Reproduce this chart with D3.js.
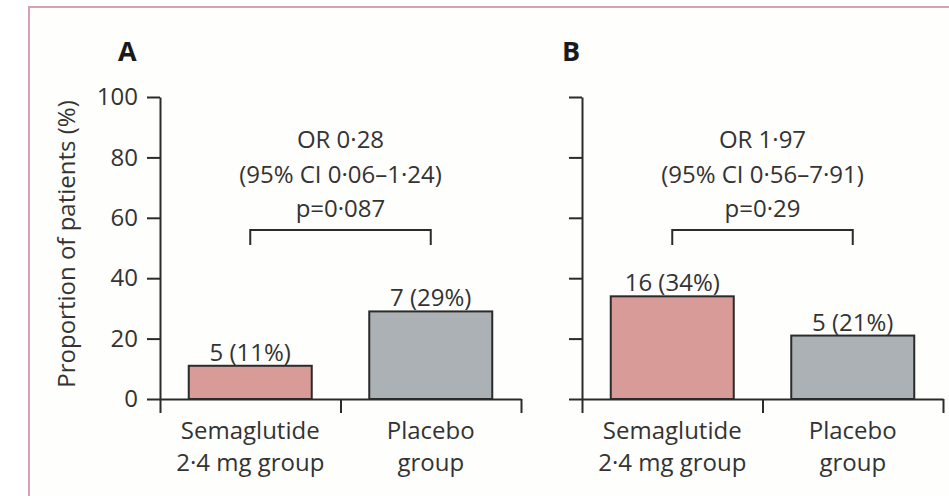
<!DOCTYPE html>
<meta charset="utf-8">
<style>
  body { margin: 0; background: #fff; }
  text { font-family: "Open Sans", sans-serif; fill: #333; }
</style>
<svg width="949" height="496"></svg>
<script src="https://d3js.org/d3.v7.min.js"></script>
<script>
// data
var groups = ["Semaglutide 2·4 mg group", "Placebo group"];
var groupLines = [["Semaglutide", "2·4 mg group"], ["Placebo", "group"]];
var panelA = [11, 29];
var panelALabels = ["5 (11%)", "7 (29%)"];
var panelB = [34, 21];
var panelBLabels = ["16 (34%)", "5 (21%)"];
var statsA = ["OR 0·28", "(95% CI 0·06–1·24)", "p=0·087"];
var statsB = ["OR 1·97", "(95% CI 0·56–7·91)", "p=0·29"];
var yTicks = [0, 20, 40, 60, 80, 100];

var svg = d3.select("svg");

// frame (bottom and right edges run off the picture)
svg.append("rect")
    .attr("x", 29).attr("y", 7)
    .attr("width", 940).attr("height", 500)
    .attr("fill", "#fefefd")
    .attr("stroke", "#d6a2b2")
    .attr("stroke-width", 2);

var y = d3.scaleLinear().domain([0, 100]).range([399, 97]);

function panel(left, letter, values, labels, stats, showLabels) {
    var g = svg.append("g").attr("transform", "translate(" + left + ",0)");
    var w = 361;

    var x = d3.scaleBand().domain(groups).range([0, w]).paddingInner(0).paddingOuter(0);
    var edges = d3.scaleLinear().domain([0, groups.length]).range([0, w]);
    var barW = 123;

    g.append("text")
        .attr("x", letter == "A" ? -42 : -20)
        .attr("y", 61)
        .attr("font-weight", "bold")
        .attr("font-size", 27)
        .style("fill", "#1a1a1a")
        .text(letter);

    // bars
    g.selectAll("rect.bar")
      .data(values)
      .enter().append("rect")
        .attr("class", "bar")
        .attr("x", function(d, i) { return x(groups[i]) + x.bandwidth() / 2 - barW / 2; })
        .attr("y", function(d) { return y(d); })
        .attr("width", barW)
        .attr("height", function(d) { return y(0) - y(d); })
        .attr("fill", function(d, i) { return i == 0 ? "#d89b97" : "#abb1b4"; })
        .attr("stroke", "#2b2b2b")
        .attr("stroke-width", 2);

    g.selectAll("text.val")
      .data(values)
      .enter().append("text")
        .attr("class", "val")
        .attr("x", function(d, i) { return x(groups[i]) + x.bandwidth() / 2; })
        .attr("y", function(d) { return y(d) - 5; })
        .attr("text-anchor", "middle")
        .attr("font-size", 24)
        .text(function(d, i) { return labels[i]; });

    // y axis
    var ya = g.append("g")
        .call(d3.axisLeft(y).tickValues(yTicks).tickSize(13).tickSizeOuter(0).tickPadding(9)
            .tickFormat(showLabels ? d3.format("d") : ""));
    // x axis
    var xa = g.append("g")
        .attr("transform", "translate(0," + y(0) + ")")
        .call(d3.axisBottom(edges).tickValues(d3.range(groups.length + 1)).tickSize(14).tickSizeOuter(0).tickFormat(""));

    [ya, xa].forEach(function(a) {
        a.selectAll("path, line").attr("stroke", "#2b2b2b").attr("stroke-width", 2);
        a.selectAll("text").attr("font-size", 24).attr("font-family", "Open Sans, sans-serif").attr("fill", "#333");
    });

    // category labels
    groupLines.forEach(function(lines, i) {
        var t = g.append("text")
            .attr("text-anchor", "middle")
            .attr("font-size", 24);
        lines.forEach(function(s, j) {
            t.append("tspan")
                .attr("x", x(groups[i]) + x.bandwidth() / 2)
                .attr("y", 439 + j * 32)
                .text(s);
        });
    });

    // bracket + stats
    var c0 = x(groups[0]) + x.bandwidth() / 2,
        c1 = x(groups[1]) + x.bandwidth() / 2;
    g.append("path")
        .attr("d", "M" + c0 + "," + 245 + "V230H" + c1 + "V245")
        .attr("fill", "none")
        .attr("stroke", "#2b2b2b")
        .attr("stroke-width", 2);

    stats.forEach(function(s, j) {
        g.append("text")
            .attr("x", (c0 + c1) / 2)
            .attr("y", 148 + j * 34.5)
            .attr("text-anchor", "middle")
            .attr("font-size", 24)
            .text(s);
    });

    return g;
}

panel(160, "A", panelA, panelALabels, statsA, true);
panel(582, "B", panelB, panelBLabels, statsB, false);

// y axis title
svg.append("text")
    .attr("transform", "translate(75,244) rotate(-90)")
    .attr("text-anchor", "middle")
    .attr("font-size", 24)
    .text("Proportion of patients (%)");
</script>
